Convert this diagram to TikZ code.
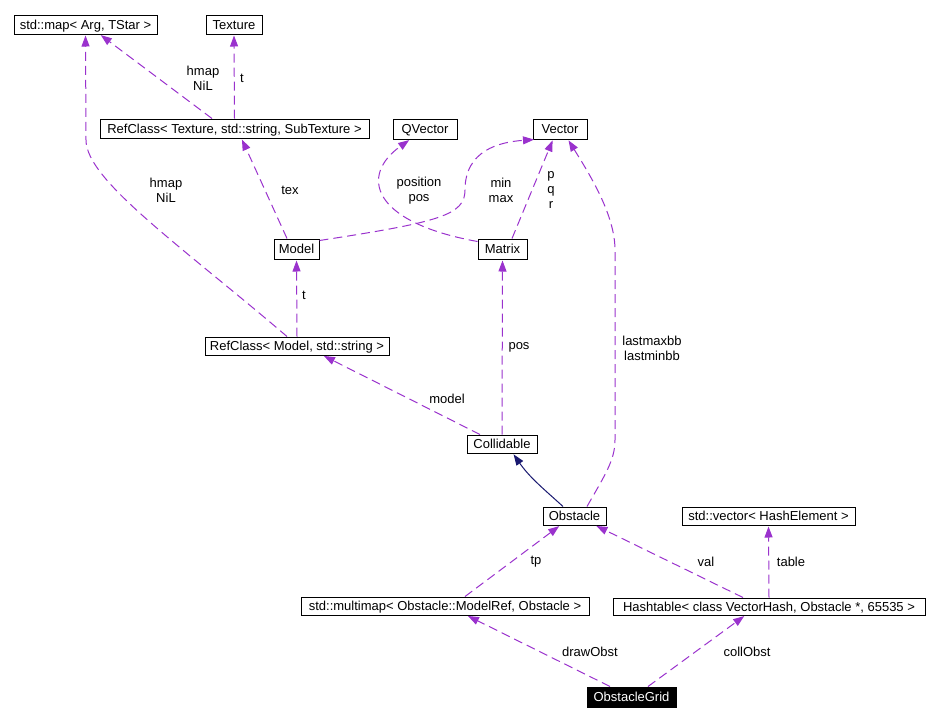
\documentclass[tikz,border=0pt]{standalone}
\usepackage{fontspec}
\setmainfont{Liberation Sans}
\usetikzlibrary{arrows.meta}
\definecolor{edgepurple}{HTML}{9A32CD}
\definecolor{inhnavy}{HTML}{191970}
\begin{document}
\begin{tikzpicture}[x=1pt,y=-1pt,
  every node/.style={font=\fontsize{13}{15}\selectfont, inner sep=0pt},
  cls/.style={draw=black, line width=1pt, fill=white, text=black, text height=9.4pt, text depth=0pt},
  focus/.style={draw=black, line width=1pt, fill=black, text=white, text height=9.4pt, text depth=0pt},
  lbl/.style={align=center, text=black},
  usage/.style={draw=edgepurple, line width=1pt, dash pattern=on 9pt off 5pt,
     -{Triangle[length=11pt,width=8pt,fill=edgepurple]}, shorten >=1pt},
  inherit/.style={draw=inhnavy, line width=1pt,
     -{Triangle[length=11pt,width=8pt,fill=inhnavy]}, shorten >=1pt}]
\useasboundingbox (0,0) rectangle (938,721);

% nodes
\node[cls, minimum width=143pt, minimum height=19pt] (map) at (85.5,24.5) {std::map< Arg, TStar >};
\node[cls, minimum width=56pt, minimum height=19pt] (tex) at (234,24.5) {Texture};
\node[cls, minimum width=269pt, minimum height=19pt] (rt) at (234.5,128.5) {RefClass< Texture, std::string, SubTexture >};
\node[cls, minimum width=64pt, minimum height=20pt] (qv) at (425,129) {QVector};
\node[cls, minimum width=54pt, minimum height=20pt] (vec) at (560,129) {Vector};
\node[cls, minimum width=45pt, minimum height=20pt] (model) at (296.5,249) {Model};
\node[cls, minimum width=49pt, minimum height=20pt] (mat) at (502.5,249) {Matrix};
\node[cls, minimum width=184pt, minimum height=18pt] (rm) at (297,346) {RefClass< Model, std::string >};
\node[cls, minimum width=70pt, minimum height=18pt] (col) at (502,444) {Collidable};
\node[cls, minimum width=63pt, minimum height=18pt] (obs) at (574.5,516) {Obstacle};
\node[cls, minimum width=173pt, minimum height=18pt] (sv) at (768.5,516) {std::vector< HashElement >};
\node[cls, minimum width=312pt, minimum height=17pt] (hash) at (769,606.5) {Hashtable< class VectorHash, Obstacle *, 65535 >};
\node[cls, minimum width=288pt, minimum height=18pt] (mm) at (445,606) {std::multimap< Obstacle::ModelRef, Obstacle >};
\node[focus, minimum width=89pt, minimum height=20pt] (og) at (631.5,697) {ObstacleGrid};

% connectors
\draw[usage] ([xshift=-22.5pt]rt.north) -- ([xshift=14.5pt]map.south);
\draw[usage] ([xshift=-10pt]rm.north) .. controls (180,245) and (86,180) .. (86,140) -- (map.south);
\draw[usage] (rt.north) -- (tex.south);
\draw[usage] ([xshift=-9.5pt]model.north) -- ([xshift=7pt]rt.south);
\draw[usage] ([yshift=-3pt]mat.north west) .. controls (370,222) and (360,175) .. ([xshift=-15pt]qv.south);
\draw[usage] ([yshift=-2pt]model.north east) .. controls (440,222) and (465,215) .. (465,190) .. controls (465,150) and (500,142) .. ([xshift=-25pt]vec.south);
\draw[usage] ([xshift=9.5pt]mat.north) -- ([xshift=-7pt]vec.south);
\draw[usage] ([xshift=12.5pt]obs.north) .. controls (605,475) and (615,460) .. (615,440) -- (615,250) .. controls (615,215) and (590,175) .. ([xshift=8pt]vec.south);
\draw[usage] (rm.north) -- (model.south);
\draw[usage] ([xshift=-22pt]col.north) -- ([xshift=26pt]rm.south);
\draw[usage] (col.north) -- (mat.south);
\draw[inherit] ([xshift=-11.5pt]obs.north) .. controls (545,490) and (530,478) .. ([xshift=11pt]col.south);
\draw[usage] ([xshift=20pt]mm.north) -- ([xshift=-14.5pt]obs.south);
\draw[usage] ([xshift=-26pt]hash.north) -- ([xshift=21pt]obs.south);
\draw[usage] (hash.north) -- (sv.south);
\draw[usage] ([xshift=-21.5pt]og.north) -- ([xshift=22pt]mm.south);
\draw[usage] ([xshift=16.5pt]og.north) -- ([xshift=-24pt]hash.south);

% labels
\node[lbl] (l1) at (203,78.5) {hmap\\NiL};
\node[lbl] (l2) at (242,78) {t};
\node[lbl] (l3) at (166,190.5) {hmap\\NiL};
\node[lbl] (l4) at (290,190) {tex};
\node[lbl] (l5) at (419,190.5) {position\\pos};
\node[lbl] (l6) at (501,190.5) {min\\max};
\node[lbl] (l7) at (551,190.5) {p\\q\\r};
\node[lbl] (l8) at (304,295) {t};
\node[lbl] (l9) at (519,347) {pos};
\node[lbl] (l10) at (447,399) {model};
\node[lbl] (l11) at (652,348) {lastmaxbb\\lastminbb};
\node[lbl] (l12) at (536,562) {tp};
\node[lbl] (l13) at (706,562) {val};
\node[lbl] (l14) at (791,562) {table};
\node[lbl] (l15) at (590,652) {drawObst};
\node[lbl] (l16) at (747,652) {collObst};
\end{tikzpicture}
\end{document}
